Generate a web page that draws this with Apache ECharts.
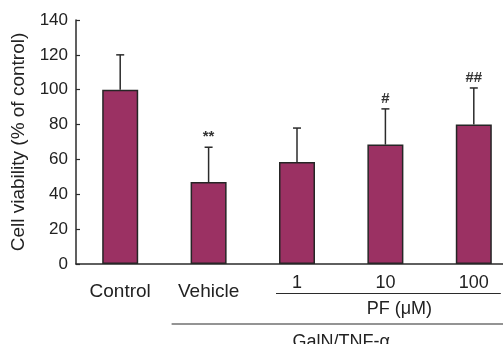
<!DOCTYPE html>
<html><head><meta charset="utf-8">
<script src="https://cdn.jsdelivr.net/npm/echarts@6/dist/echarts.min.js"></script>
<style>html,body{margin:0;padding:0;background:#fff;overflow:hidden;width:503px;height:344px}#c{width:518px;height:344px}</style>
</head><body><div id="c"></div>
<script>
const categories = ['Control', 'Vehicle', '1', '10', '100'];
const viability = [100, 47, 58.5, 68.5, 80];
const sd = [20, 20, 19.5, 20.5, 21];
const significance = ['', '**', '', '#', '##'];
const yTicks = [0, 20, 40, 60, 80, 100, 120, 140];
const groupLabels = ['PF (μM)', 'GalN/TNF-α'];

const FONT = '"Liberation Sans", Arial, sans-serif';
const INK = '#2b2b2b';
const chart = echarts.init(document.getElementById('c'));
chart.setOption({
  animation: false,
  backgroundColor: '#fff',
  grid: { left: 76, top: 20, bottom: 80, right: 0 },
  xAxis: {
    type: 'category',
    data: categories,
    axisLine: { lineStyle: { color: INK, width: 1.5 } },
    axisTick: { inside: true, length: 3, lineStyle: { color: INK, width: 1.2 } },
    axisLabel: {
      margin: 10,
      color: '#222',
      fontFamily: FONT,
      formatter: v => (v === 'Control' || v === 'Vehicle') ? '{g|' + v + '}' : '{d|' + v + '}',
      rich: {
        g: { fontSize: 19, fontFamily: FONT, color: '#222', padding: [8, 0, 0, 0] },
        d: { fontSize: 18, fontFamily: FONT, color: '#222' }
      }
    }
  },
  yAxis: {
    type: 'value',
    min: yTicks[0], max: yTicks[yTicks.length - 1], interval: 20,
    name: 'Cell viability (% of control)',
    nameLocation: 'middle',
    nameGap: 47,
    nameTextStyle: { fontSize: 19, fontFamily: FONT, color: '#222' },
    axisLine: { show: true, lineStyle: { color: INK, width: 1.5 } },
    axisTick: { show: true, inside: true, length: 4, lineStyle: { color: INK, width: 1.2 } },
    axisLabel: { fontSize: 17, fontFamily: FONT, color: '#222', margin: 8 },
    splitLine: { show: false }
  },
  series: [
    {
      type: 'bar',
      data: viability,
      barWidth: 36,
      itemStyle: { color: '#9b3163', borderColor: '#262626', borderWidth: 1.5 }
    },
    {
      type: 'custom',
      data: categories.map((c, i) => [i, viability[i], viability[i] + sd[i]]),
      z: 5,
      renderItem: function (params, api) {
        const base = api.coord([api.value(0), api.value(1)]);
        const top = api.coord([api.value(0), api.value(2)]);
        const st = { stroke: INK, lineWidth: 1.5 };
        const children = [
          { type: 'line', shape: { x1: base[0], y1: base[1], x2: top[0], y2: top[1] }, style: st },
          { type: 'line', shape: { x1: top[0] - 4, y1: top[1], x2: top[0] + 4, y2: top[1] }, style: st }
        ];
        const s = significance[params.dataIndex];
        if (s) {
          children.push({ type: 'text', style: { text: s, x: top[0], y: top[1] - 10, align: 'center', verticalAlign: 'middle', fontSize: 15, fontWeight: 'bold', fontFamily: FONT, fill: '#333' } });
        }
        return { type: 'group', children };
      }
    }
  ]
});

const px = i => chart.convertToPixel({ xAxisIndex: 0 }, i);
const c1 = px(1), c2 = px(2), c3 = px(3), c4 = px(4);
chart.setOption({
  graphic: [
    { type: 'line', shape: { x1: c2 - 21, y1: 293.5, x2: c4 + 27, y2: 293.5 }, style: { stroke: INK, lineWidth: 1.2 } },
    { type: 'text', style: { text: groupLabels[0], x: c3 + 14, y: 309, align: 'center', verticalAlign: 'middle', fontSize: 18, fontFamily: FONT, fill: '#222' } },
    { type: 'line', shape: { x1: c1 - 37, y1: 324, x2: 520, y2: 324 }, style: { stroke: INK, lineWidth: 1.2 } },
    { type: 'text', style: { text: groupLabels[1], x: (c2 + c3) / 2, y: 342, align: 'center', verticalAlign: 'middle', fontSize: 18, fontFamily: FONT, fill: '#222' } }
  ]
});
</script></body></html>
